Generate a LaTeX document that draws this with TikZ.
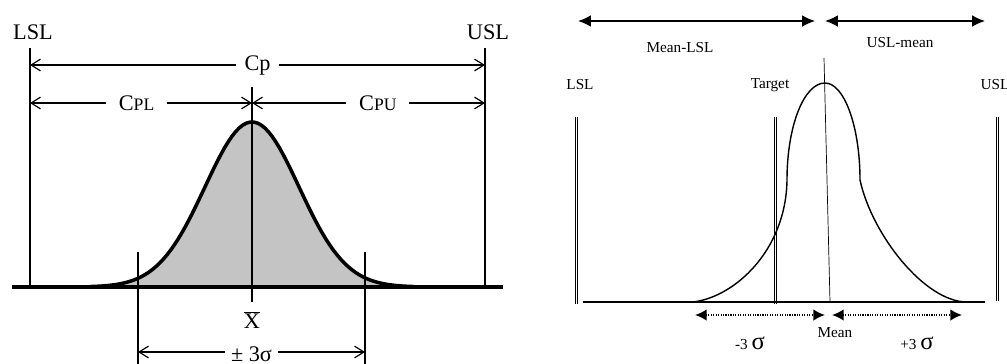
\documentclass[tikz,border=0pt]{standalone}
\usepackage{fontspec}
\setmainfont{Liberation Serif}
\usetikzlibrary{arrows.meta}

\begin{document}
\begin{tikzpicture}[x=0.03cm, y=-0.03cm,
  biglabel/.style={font=\fontsize{19}{19}\selectfont, inner sep=1pt},
  smalllabel/.style={font=\fontsize{13}{13}\selectfont, inner sep=1pt},
  limitline/.style={line width=1pt},
  heavyline/.style={line width=3pt, line join=round},
  openarrow/.style={line width=1pt, {Straight Barb[length=8pt,width=10pt]}-{Straight Barb[length=8pt,width=10pt]}},
  solidarrow/.style={line width=1.3pt, {Latex[length=11pt,width=10pt]}-{Latex[length=11pt,width=10pt]}},
  dottedarrow/.style={line width=1.6pt, dash pattern=on 1pt off 1.1pt, {Latex[length=10pt,width=10pt]}-{Latex[length=10pt,width=10pt]}},
  speclimit/.style={double, double distance=1.6pt, line width=0.8pt}
]

% Define Colors
\definecolor{CurveGray}{HTML}{C4C4C4}

\useasboundingbox (0,0) rectangle (1007,363);

% Left: Cp, Cpl and Cpu
\begin{scope}

  % Shaded normal curve (sigma about 47 px)
  \fill[CurveGray] plot[domain=90:414, samples=90] (\x,{287-165*exp(-0.5*((\x-252)/47)^2)}) -- cycle;
  \draw[heavyline] plot[domain=90:414, samples=90] (\x,{287-165*exp(-0.5*((\x-252)/47)^2)});
  \draw[heavyline] (12,287) -- (503,287);

  % Limits and centre line
  \node[biglabel] (lsl) at (33,32) {LSL};
  \node[biglabel] (usl) at (488,32) {USL};
  \coordinate (lsl top) at (30,48);
  \coordinate (lsl bot) at (30,287);
  \coordinate (usl top) at (485,48);
  \coordinate (usl bot) at (485,287);
  \coordinate (mid top) at (252,87);
  \coordinate (mid bot) at (252,302);
  \draw[limitline] (lsl top) -- (lsl bot);
  \draw[limitline] (usl top) -- (usl bot);
  \draw[limitline] (mid top) -- (mid bot);

  % Dimension arrows
  \coordinate (cp left) at (30,65);
  \coordinate (cp right) at (485,65);
  \draw[openarrow] (cp left) -- (cp right)
    node[biglabel, midway, fill=white, inner xsep=7pt] (cp) {Cp};

  \coordinate (cpl left) at (30,103);
  \coordinate (cpl right) at (252,103);
  \coordinate (cpu right) at (485,103);
  \draw[openarrow] (cpl left) -- (cpl right)
    node[pos=0.48, fill=white, inner xsep=11pt] (cpl) {\fontsize{19}{19}\selectfont C\fontsize{15}{15}\selectfont PL};
  \draw[openarrow] (cpl right) -- (cpu right)
    node[pos=0.54, fill=white, inner xsep=11pt] (cpu) {\fontsize{19}{19}\selectfont C\fontsize{15}{15}\selectfont PU};

  % Process spread
  \node[biglabel] (xbar) at (252,320) {$\overline{\hbox{X}}$};
  \coordinate (sig left top) at (138,252);
  \coordinate (sig left bot) at (138,366);
  \coordinate (sig right top) at (365,252);
  \coordinate (sig right bot) at (365,366);
  \draw[limitline] (sig left top) -- (sig left bot);
  \draw[limitline] (sig right top) -- (sig right bot);
  \coordinate (spread left) at (138,352);
  \coordinate (spread right) at (365,352);
  \draw[openarrow] (spread left) -- (spread right)
    node[biglabel, midway, fill=white, inner xsep=5pt, yshift=-2pt] (spread) {± 3σ};

\end{scope}

% Right: skewed process
\begin{scope}

  % Labels
  \node[smalllabel] (meanlsl) at (680,48) {Mean-LSL};
  \node[smalllabel] (uslmean) at (900,43) {USL-mean};
  \node[smalllabel] (rlsl) at (580,85) {LSL};
  \node[smalllabel] (target) at (770,85) {Target};
  \node[smalllabel] (rusl) at (995,85) {USL};
  \node[smalllabel] (mean) at (835,333) {Mean};
  \node[smalllabel] (minus) at (750,343) {-3 {\fontsize{21}{21}\selectfont σ}};
  \node[smalllabel] (plus) at (917,343) {+3 {\fontsize{21}{21}\selectfont σ}};

  % Top arrows
  \coordinate (top a) at (578,21);
  \coordinate (top b) at (815,21);
  \coordinate (top c) at (825,21);
  \coordinate (top d) at (985,21);
  \draw[solidarrow] (top a) -- (top b);
  \draw[solidarrow] (top c) -- (top d);

  % Spec limits (double lines)
  \foreach \xpos/\ybot in {576.5/304, 775.5/304, 997.5/301} {
    \draw[speclimit] (\xpos,117) -- (\xpos,\ybot);
  }

  % Baseline, mean line and curve
  \draw[line width=0.9pt] (583,302) -- (985,302);
  \draw[line width=0.6pt] (824,58) -- (830,302);
  \draw[line width=1.2pt]
    (693,302) .. controls (735,297) and (786,250) .. (787,180)
    .. controls (787,126) and (804,83) .. (825,83)
    .. controls (844,83) and (860,126) .. (860,180)
    .. controls (872,235) and (925,302) .. (967,302);

  % Bottom arrows
  \coordinate (bot a) at (695,315);
  \coordinate (bot b) at (825,315);
  \coordinate (bot c) at (832,315);
  \coordinate (bot d) at (962,315);
  \draw[dottedarrow] (bot a) -- (bot b);
  \draw[dottedarrow] (bot c) -- (bot d);

\end{scope}

\end{tikzpicture}
\end{document}
